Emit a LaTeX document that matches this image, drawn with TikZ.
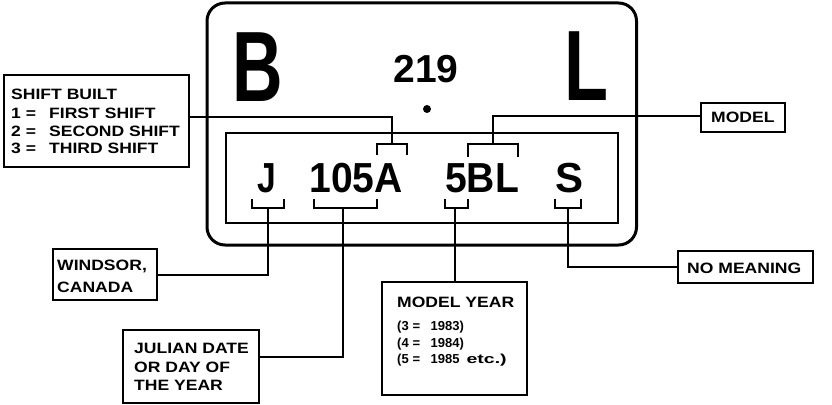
\documentclass[tikz,border=0pt]{standalone}
\usepackage{fontspec}
\setmainfont{Liberation Sans}
\usepackage{graphicx}
\newcommand\sx[1]{\scalebox{1.17}[1]{#1}}
\begin{document}
\begin{tikzpicture}[x=1pt,y=-1pt,
  lbox/.style={draw, line width=2pt, inner sep=0pt},
  txt/.style={anchor=base west, inner sep=0pt, font=\fontsize{15}{18}\selectfont\bfseries},
  small/.style={anchor=base west, inner sep=0pt, font=\fontsize{13}{15}\selectfont\bfseries},
  conn/.style={line width=2pt},
  brk/.style={line width=1.6pt},
  big/.style={inner sep=0pt, font=\fontsize{100}{100}\selectfont\bfseries},
  mid/.style={inner sep=0pt, font=\fontsize{42}{42}\selectfont\bfseries}]
\useasboundingbox (0,0) rectangle (832,404);
\fill[white] (0,0) rectangle (832,404);
% plate
\draw[line width=3pt, rounded corners=18pt] (207,3) rectangle (636.5,245);
\draw[line width=2.5pt] (226,133) rectangle (618,223);
% big letters
\node[big] (B) at (258,67.5) {\scalebox{0.7}[1]{B}};
\node[big] (L) at (586,66) {\scalebox{0.72}[1]{L}};
\node[inner sep=0pt, font=\fontsize{39}{39}\selectfont\bfseries] (n219) at (426,69) {219};
\fill (427,109) circle (4pt);
% code characters
\node[mid] (cJ) at (267,178) {\scalebox{0.8}[1]{J}};
\node[mid] (c105) at (356,178) {\scalebox{0.93}[1]{105A}};
\node[mid] (c5bl) at (482,178) {\scalebox{0.93}[1]{5BL}};
\node[mid] (cS) at (569.5,178) {S};
% brackets
\draw[brk] (252,199) |- (284,208) -- (284,199);
\draw[brk] (314,199) |- (377,208) -- (377,199);
\draw[brk] (445,199) |- (468,208) -- (468,199);
\draw[brk] (555,199) |- (581,208) -- (581,199);
\draw[brk] (377,155) |- (407,144) -- (407,155);
\draw[brk] (468,157) |- (518,144) -- (518,157);
\coordinate (bJ) at (268,208);
\coordinate (b105) at (343,208);
\coordinate (b5) at (455,208);
\coordinate (bS) at (568,208);
\coordinate (bShift) at (392,144);
\coordinate (bModel) at (493,144);
% label boxes
\node[lbox, minimum width=185pt, minimum height=92pt] (shift) at (96.5,121) {};
\node[lbox, minimum width=104pt, minimum height=51pt] (windsor) at (105,274.5) {};
\node[lbox, minimum width=136pt, minimum height=73pt] (julian) at (191,366) {};
\node[lbox, minimum width=145pt, minimum height=113pt] (myear) at (454.5,338.5) {};
\node[lbox, minimum width=84pt, minimum height=29pt] (model) at (743,117.5) {};
\node[lbox, minimum width=135pt, minimum height=32pt] (nomean) at (745.5,267) {};
% label texts
\node[txt] (s0) at (11,99) {\sx{SHIFT BUILT}};
\node[txt] (s1) at (11,118) {\sx{\makebox[32.5pt][l]{1 =}FIRST SHIFT}};
\node[txt] (s2) at (11,136) {\sx{\makebox[32.5pt][l]{2 =}SECOND SHIFT}};
\node[txt] (s3) at (11,153) {\sx{\makebox[32.5pt][l]{3 =}THIRD SHIFT}};
\node[txt] (w1) at (57,270) {\sx{WINDSOR,}};
\node[txt] (w2) at (57,292) {\sx{CANADA}};
\node[txt] (j1) at (134,353) {\sx{JULIAN DATE}};
\node[txt] (j2) at (134,372) {\sx{OR DAY OF}};
\node[txt] (j3) at (134,390) {\sx{THE YEAR}};
\node[txt] (y0) at (397,307) {\sx{MODEL YEAR}};
\node[small] (y1) at (397,330) {\makebox[15.5pt][l]{(3}\makebox[18pt][l]{=}1983)};
\node[small] (y2) at (397,347) {\makebox[15.5pt][l]{(4}\makebox[18pt][l]{=}1984)};
\node[small] (y3) at (397,363) {\makebox[15.5pt][l]{(5}\makebox[18pt][l]{=}1985\hspace{7pt}\scalebox{1.5}[1]{etc.)}};
\node[txt] (m1) at (711,122) {\sx{MODEL}};
\node[txt] (n1) at (687,273) {\sx{NO MEANING}};
% connectors
\draw[conn] (bJ) |- (windsor.east);
\draw[conn] (b105) |- ([yshift=9pt]julian.east);
\draw[conn] (b5) -- (b5 |- myear.north);
\draw[conn] (bS) |- (nomean.west);
\draw[conn] ([yshift=4pt]shift.east) -| (bShift);
\draw[conn] ([yshift=2pt]model.west) -| (bModel);
\end{tikzpicture}
\end{document}
